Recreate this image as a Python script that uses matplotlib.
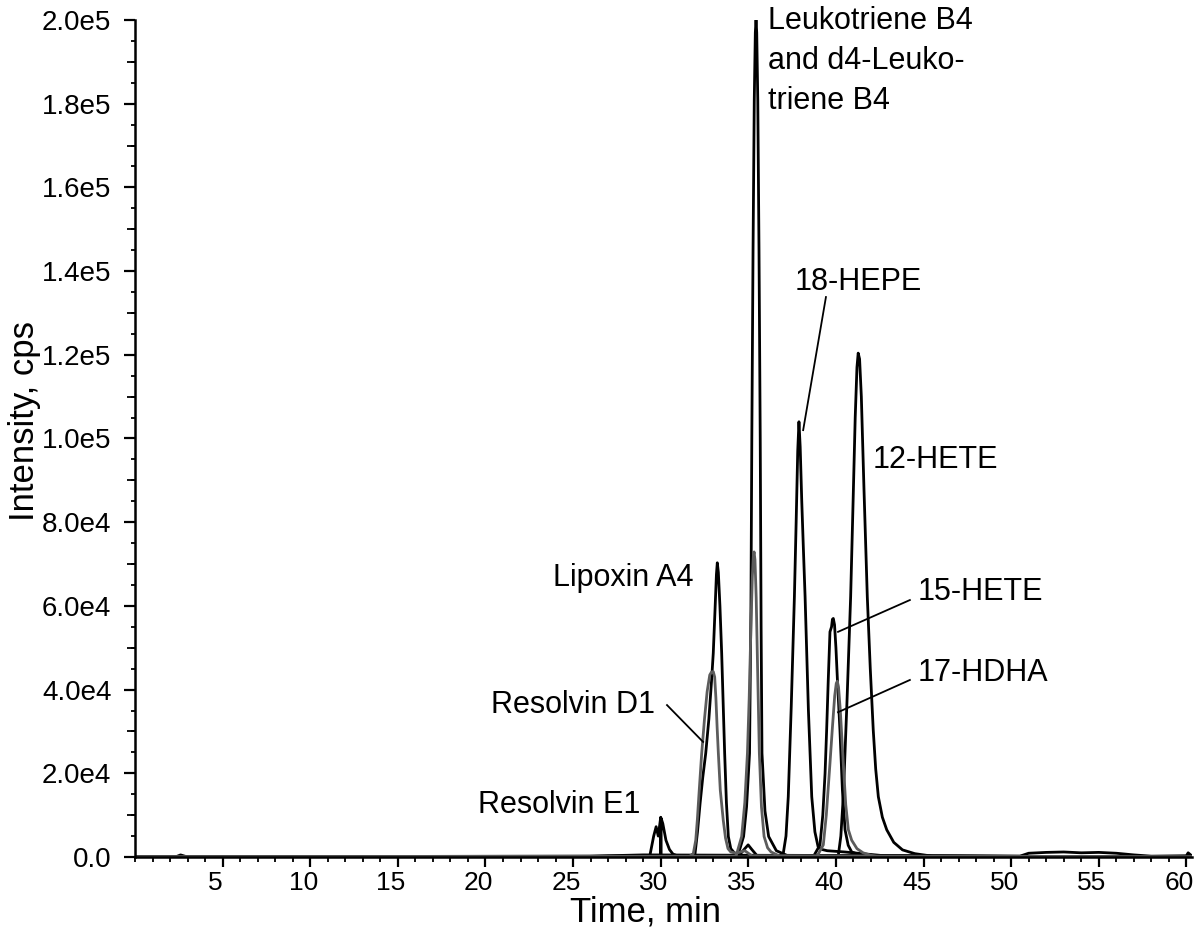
import matplotlib
matplotlib.use("Agg")
import matplotlib.pyplot as plt
import matplotlib.transforms as mtransforms
from matplotlib.ticker import MultipleLocator, FuncFormatter, FixedLocator

plt.rcParams['font.family'] = ['Liberation Sans', 'DejaVu Sans']

# ---------------- data ----------------
# black traces
rve1_t = [0, 29.2, 29.39, 29.6, 29.74, 29.86, 29.97, 30.0, 30.0, 30.02, 30.02, 30.12, 30.3, 30.5, 30.7, 31.0, 31.3, 60.3]
rve1_v = [0, 0, 500, 5000, 7240, 5000, 8500, 9500, 0, 0, 9300, 8000, 4000, 1800, 700, 200, 0, 0]

lxa4_t = [0, 31.5, 31.96, 32.1, 32.25, 32.4, 32.57, 32.75, 32.9, 33.0, 33.1, 33.18, 33.23, 33.29, 33.38,
          33.48, 33.57, 33.65, 33.75, 33.86, 34.0, 34.2, 34.5, 34.8, 34.99, 35.2, 35.5, 60.3]
lxa4_v = [0, 0, 800, 6000, 12900, 19000, 24800, 33000, 42000, 48700, 59000, 67500, 70300, 68000, 60000,
          48700, 36000, 24800, 13000, 4900, 2000, 1000, 500, 2000, 2900, 1800, 300, 0]

ltb4_t = [0, 34.4, 34.73, 34.9, 35.07, 35.15, 35.2, 35.27, 35.34, 35.4, 35.44, 35.48, 35.54, 35.61, 35.68,
          35.73, 35.78, 35.95, 36.16, 36.6, 37.2, 60.3]
ltb4_v = [0, 300, 4900, 12000, 24800, 60000, 100000, 145000, 181000, 197000, 200000, 197000, 181000, 145000, 100000,
          55000, 24800, 11000, 4900, 1500, 400, 0]

hepe18_t = [0, 36.7, 37.0, 37.15, 37.28, 37.45, 37.63, 37.73, 37.82, 37.89, 37.96, 38.05, 38.14, 38.24, 38.43,
            38.62, 38.8, 38.98, 39.2, 39.5, 40.5, 41.5, 42.5, 43.5, 60.3]
hepe18_v = [0, 0, 1000, 5000, 14400, 36000, 62200, 80000, 97000, 104000, 98000, 85000, 74000, 62200, 35000,
            14400, 6000, 2500, 1800, 1500, 1200, 800, 400, 0, 0]

hete15_t = [0, 38.7, 39.09, 39.25, 39.38, 39.47, 39.56, 39.66, 39.75, 39.8, 39.85, 39.92, 40.0, 40.1, 40.23,
            40.37, 40.52, 40.7, 40.9, 41.5, 60.3]
hete15_v = [0, 0, 2900, 10000, 20000, 30300, 42000, 53800, 55000, 56800, 57000, 55500, 50000, 41000, 30300,
            16000, 6500, 2800, 1200, 300, 0]

hete12_t = [0, 39.9, 40.14, 40.28, 40.42, 40.63, 40.84, 40.98, 41.1, 41.2, 41.27, 41.35, 41.45, 41.6, 41.79,
            41.96, 42.13, 42.27, 42.42, 42.65, 42.9, 43.3, 43.8, 44.5, 45.5, 60.3]
hete12_v = [0, 0, 500, 5000, 14400, 37000, 62200, 85000, 105000, 117000, 120400, 119000, 110000, 88000, 62200,
            45000, 30300, 21000, 14400, 9500, 6500, 3500, 1700, 800, 200, 0]

baseline_t = [0, 2.3, 2.6, 3.0, 25.0, 27.0, 29.0, 50.5, 51.0, 52.0, 53.0, 54.0, 55.0, 56.0, 57.0, 58.0, 60.0, 60.1, 60.3]
baseline_v = [0, 0, 500, 0, 0, 300, 500, 200, 900, 1100, 1200, 1000, 1100, 900, 500, 200, 300, 1000, 300]

# gray traces
rvd1_t = [0, 31.6, 31.86, 32.0, 32.09, 32.2, 32.34, 32.5, 32.65, 32.8, 32.9, 33.0, 33.08, 33.15, 33.22,
          33.29, 33.4, 33.57, 33.7, 33.84, 34.0, 34.3, 34.8, 35.2, 60.3]
rvd1_v = [0, 0, 800, 4000, 8800, 16000, 24800, 33000, 39500, 43500, 44200, 44300, 43000, 38000, 31000,
          24800, 16000, 8800, 4500, 2000, 1200, 900, 1500, 300, 0]

d4ltb4_t = [0, 34.3, 34.62, 34.8, 34.95, 35.05, 35.15, 35.23, 35.29, 35.33, 35.38, 35.45, 35.53, 35.63, 35.75,
            35.9, 36.1, 36.3, 36.8, 60.3]
d4ltb4_v = [0, 200, 4900, 13000, 24800, 38000, 55000, 67000, 72000, 72900, 71000, 62000, 45000, 24800, 12000,
            4900, 2200, 1200, 200, 0]

hdha17_t = [0, 38.9, 39.28, 39.45, 39.66, 39.8, 39.93, 40.02, 40.08, 40.15, 40.25, 40.42, 40.56, 40.71, 40.9,
            41.2, 41.55, 42.0, 42.5, 60.3]
hdha17_v = [0, 0, 2900, 10000, 22400, 31000, 38500, 41500, 42000, 40500, 35000, 22400, 12500, 6500, 4000,
            2000, 1000, 400, 0, 0]

black_traces = [(baseline_t, baseline_v), (rve1_t, rve1_v), (lxa4_t, lxa4_v), (ltb4_t, ltb4_v),
                (hepe18_t, hepe18_v), (hete15_t, hete15_v), (hete12_t, hete12_v)]
gray_traces = [(rvd1_t, rvd1_v), (d4ltb4_t, d4ltb4_v), (hdha17_t, hdha17_v)]

x_major = [5, 10, 15, 20, 25, 30, 35, 40, 45, 50, 55, 60]

# ---------------- figure ----------------
fig = plt.figure(figsize=(12, 9.27), dpi=100)
ax = fig.add_axes([135 / 1200, 70 / 927, (1192 - 135) / 1200, (857 - 20) / 927])

for t, v in black_traces:
    ax.plot(t, v, color='black', lw=2.0, solid_joinstyle='round')
for t, v in gray_traces:
    ax.plot(t, v, color='#5c5c5c', lw=2.0, solid_joinstyle='round')

ax.set_xlim(0, 60.32)
ax.set_ylim(0, 2.0e5)

for s in ['top', 'right']:
    ax.spines[s].set_visible(False)
for s in ['left', 'bottom']:
    ax.spines[s].set_linewidth(1.8)

ax.xaxis.set_major_locator(FixedLocator(x_major))
ax.xaxis.set_minor_locator(MultipleLocator(1))
ax.yaxis.set_major_locator(MultipleLocator(2e4))
ax.yaxis.set_minor_locator(MultipleLocator(5e3))


def yfmt(v, pos):
    if v == 0:
        return '0.0'
    exp = len(str(int(round(v)))) - 1
    return '%.1fe%d' % (v / 10 ** exp, exp)


ax.yaxis.set_major_formatter(FuncFormatter(yfmt))
ax.xaxis.set_major_formatter(FuncFormatter(lambda v, p: '%d' % v))

ax.tick_params(axis='y', which='major', direction='out', length=8, width=1.6, labelsize=20, pad=9)
ax.tick_params(axis='y', which='minor', direction='out', length=3, width=1.3)
ax.tick_params(axis='x', which='major', direction='out', length=7, width=1.6, labelsize=19, pad=3)
ax.tick_params(axis='x', which='minor', direction='out', length=3.5, width=1.3)

sec = ax.secondary_yaxis('left')
sec.set_yticks([1e4 * k for k in range(1, 20, 2)])
sec.tick_params(length=5.5, width=1.3, labelleft=False)
sec.spines['left'].set_visible(False)

offset = mtransforms.ScaledTranslation(-7 / 100, 0, fig.dpi_scale_trans)
for lbl in ax.xaxis.get_majorticklabels():
    lbl.set_transform(lbl.get_transform() + offset)

fig.text(25 / 1200, 1 - 421 / 927, 'Intensity, cps', rotation=90, ha='center', va='center', fontsize=25)
fig.text(645 / 1200, 1 - 922 / 927, 'Time, min', ha='center', va='baseline', fontsize=25)

fs = 22
ax.text(36.12, 203300, 'Leukotriene B4\nand d4-Leuko-\ntriene B4', ha='left', va='top',
        fontsize=fs, linespacing=1.42, clip_on=False)
ax.text(37.66, 137400, '18-HEPE', ha='left', va='center', fontsize=fs)
ax.text(42.12, 94900, '12-HETE', ha='left', va='center', fontsize=fs)
ax.text(44.69, 63300, '15-HETE', ha='left', va='center', fontsize=fs)
ax.text(44.69, 44000, '17-HDHA', ha='left', va='center', fontsize=fs)
ax.text(31.85, 66700, 'Lipoxin A4', ha='right', va='center', fontsize=fs)
ax.text(29.68, 36300, 'Resolvin D1', ha='right', va='center', fontsize=fs)
ax.text(28.82, 12400, 'Resolvin E1', ha='right', va='center', fontsize=fs)

line_kw = dict(color='black', lw=1.3)
ax.plot([39.43, 38.13], [133800, 102000], **line_kw)
ax.plot([44.22, 40.12], [61400, 53800], **line_kw)
ax.plot([44.22, 40.12], [42300, 34600], **line_kw)
ax.plot([30.36, 32.42], [36300, 27500], **line_kw)

fig.savefig('out.png', dpi=100)
